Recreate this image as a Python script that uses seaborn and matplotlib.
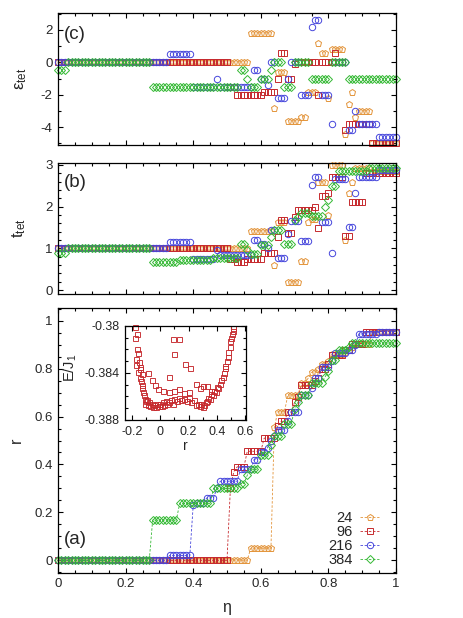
import matplotlib
matplotlib.use("Agg")
import matplotlib.pyplot as plt
import seaborn as sns
from matplotlib.ticker import MultipleLocator, FuncFormatter

# ---------------- data ----------------
eta = [
    0.00, 0.01, 0.02, 0.03, 0.04, 0.05, 0.06, 0.07, 0.08, 0.09,
    0.10, 0.11, 0.12, 0.13, 0.14, 0.15, 0.16, 0.17, 0.18, 0.19,
    0.20, 0.21, 0.22, 0.23, 0.24, 0.25, 0.26, 0.27, 0.28, 0.29,
    0.30, 0.31, 0.32, 0.33, 0.34, 0.35, 0.36, 0.37, 0.38, 0.39,
    0.40, 0.41, 0.42, 0.43, 0.44, 0.45, 0.46, 0.47, 0.48, 0.49,
    0.50, 0.51, 0.52, 0.53, 0.54, 0.55, 0.56, 0.57, 0.58, 0.59,
    0.60, 0.61, 0.62, 0.63, 0.64, 0.65, 0.66, 0.67, 0.68, 0.69,
    0.70, 0.71, 0.72, 0.73, 0.74, 0.75, 0.76, 0.77, 0.78, 0.79,
    0.80, 0.81, 0.82, 0.83, 0.84, 0.85, 0.86, 0.87, 0.88, 0.89,
    0.90, 0.91, 0.92, 0.93, 0.94, 0.95, 0.96, 0.97, 0.98, 0.99,
    1.00]

sizes = ["24", "96", "216", "384"]

# panel (c): epsilon_tet
eps_24 = [
    0, 0, 0, 0, 0, 0, 0, 0, 0, 0,
    0, 0, 0, 0, 0, 0, 0, 0, 0, 0,
    0, 0, 0, 0, 0, 0, 0, 0, 0, 0,
    0, 0, 0, 0, 0, 0, 0, 0, 0, 0,
    0, 0, 0, 0, 0, 0, 0, 0, 0, 0,
    0, 0, 0, 0, 0, 0, 0, 1.8, 1.8, 1.8,
    1.8, 1.8, 1.8, 1.8, -2.8, -0.6, -0.6, -0.6, -3.6, -3.6,
    -3.6, -3.6, -3.4, -3.4, -1.8, -1.8, -1.8, 1.2, 0.6, 0.6,
    -2.2, 0.8, 0.8, 0.8, 0.8, -4.4, -2.6, -1.8, -3.4, -3.0,
    -3.0, -3.0, -3.0, -5.0, -5.0, -5.0, -5.0, -5.0, -5.0, -5.0,
    -5.0]
eps_96 = [
    0, 0, 0, 0, 0, 0, 0, 0, 0, 0,
    0, 0, 0, 0, 0, 0, 0, 0, 0, 0,
    0, 0, 0, 0, 0, 0, 0, 0, 0, 0,
    0, 0, 0, 0, 0, 0, 0, 0, 0, 0,
    0, 0, 0, 0, 0, 0, 0, 0, 0, 0,
    0, -1.5, -1.5, -2.0, -2.0, -2.0, -2.0, -2.0, -2.0, -2.0,
    -2.0, -1.8, -1.8, -1.8, -1.8, -1.0, 0.55, 0.55, -1.0, -1.0,
    -0.1, 0, 0, 0, 0, 0, 0, -2.0, 0, 0,
    0, 0, 0.6, 0, 0, -4.2, -3.8, -3.8, -3.8, -3.8,
    -3.8, -3.8, -3.8, -5.0, -5.0, -5.0, -5.0, -5.0, -5.0, -5.0,
    -5.0]
eps_216 = [
    0, 0, 0, 0, 0, 0, 0, 0, 0, 0,
    0, 0, 0, 0, 0, 0, 0, 0, 0, 0,
    0, 0, 0, 0, 0, 0, 0, 0, 0, 0,
    0, 0, 0, 0.5, 0.5, 0.5, 0.5, 0.5, 0.5, 0.5,
    -1.5, -1.5, -1.5, -1.5, -1.5, -1.5, -1.5, -1.0, -1.5, -1.5,
    -1.5, -1.5, -1.5, -1.5, -1.5, -1.5, -1.5, -1.5, -0.5, -0.5,
    -1.0, -1.0, -1.4, 0, 0, -2.2, -2.2, -2.2, -1.0, 0,
    0, 0, -2.0, -2.0, -2.0, 2.2, 2.6, 2.6, -2.0, -2.0,
    -2.0, -3.8, 0, 0, 0, 0, -4.2, -4.2, -3.0, -3.8,
    -3.8, -3.8, -3.8, -3.8, -3.8, -4.6, -4.6, -4.6, -4.6, -4.6,
    -4.6]
eps_384 = [
    -0.5, -0.5, -0.5, 0, 0, 0, 0, 0, 0, 0,
    0, 0, 0, 0, 0, 0, 0, 0, 0, 0,
    0, 0, 0, 0, 0, 0, 0, 0, -1.5, -1.5,
    -1.5, -1.5, -1.5, -1.5, -1.5, -1.5, -1.5, -1.5, -1.5, -1.5,
    -1.5, -1.5, -1.5, -1.5, -1.5, -1.5, -1.5, -1.5, -1.5, -1.5,
    -1.5, -1.5, -1.5, -1.5, -0.5, -0.5, -1.0, -1.5, -1.5, -1.5,
    -1.0, -1.0, -1.0, -0.5, 0, 0, 0, -1.5, -1.5, -1.5,
    0, 0, 0, 0, 0, -1.0, -1.0, -1.0, -1.0, -1.0,
    -1.0, 0, 0, 0, 0, 0, -1.0, -1.0, -1.0, -1.0,
    -1.0, -1.0, -1.0, -1.0, -1.0, -1.0, -1.0, -1.0, -1.0, -1.0,
    -1.0]

# panel (b): t_tet
t_24 = [
    1, 1, 1, 1, 1, 1, 1, 1, 1, 1,
    1, 1, 1, 1, 1, 1, 1, 1, 1, 1,
    1, 1, 1, 1, 1, 1, 1, 1, 1, 1,
    1, 1, 1, 1, 1, 1, 1, 1, 1, 1,
    1, 1, 1, 1, 1, 1, 1, 1, 1, 1,
    1, 1, 1, 1, 1, 1, 1, 1.42, 1.42, 1.42,
    1.42, 1.42, 1.42, 1.42, 0.6, 1.62, 1.62, 1.62, 0.2, 0.2,
    0.2, 0.2, 0.7, 0.7, 1.62, 1.7, 1.7, 2.6, 2.6, 2.6,
    1.8, 3.0, 3.0, 3.0, 3.0, 1.2, 2.32, 2.6, 2.92, 2.92,
    2.92, 2.92, 2.92, 2.85, 2.85, 2.85, 2.85, 2.85, 2.85, 2.85,
    2.85]
t_96 = [
    1, 1, 1, 1, 1, 1, 1, 1, 1, 1,
    1, 1, 1, 1, 1, 1, 1, 1, 1, 1,
    1, 1, 1, 1, 1, 1, 1, 1, 1, 1,
    1, 1, 1, 1, 1, 1, 1, 1, 1, 1,
    1, 1, 1, 1, 1, 1, 1, 1, 1, 1,
    1, 0.75, 0.75, 0.68, 0.68, 0.68, 0.75, 0.75, 0.75, 0.75,
    0.75, 0.9, 0.9, 0.9, 0.9, 1.26, 1.68, 1.68, 1.36, 1.36,
    1.75, 1.93, 1.93, 1.93, 1.93, 1.93, 2.0, 1.48, 2.26, 2.26,
    2.32, 2.7, 2.72, 2.72, 2.7, 1.3, 1.3, 2.1, 2.1, 2.1,
    2.1, 2.8, 2.8, 2.8, 2.8, 2.8, 2.8, 2.8, 2.8, 2.8,
    2.8]
t_216 = [
    1, 1, 1, 1, 1, 1, 1, 1, 1, 1,
    1, 1, 1, 1, 1, 1, 1, 1, 1, 1,
    1, 1, 1, 1, 1, 1, 1, 1, 1, 1,
    1, 1, 1, 1.15, 1.15, 1.15, 1.15, 1.15, 1.15, 1.15,
    0.75, 0.75, 0.75, 0.75, 0.75, 0.75, 0.75, 0.95, 0.85, 0.85,
    0.85, 0.85, 0.85, 0.85, 0.85, 0.85, 0.85, 0.85, 1.2, 1.2,
    1.1, 1.1, 1.0, 1.45, 1.45, 0.78, 0.78, 0.78, 1.34, 1.66,
    1.66, 1.66, 1.18, 1.18, 1.18, 2.52, 2.72, 2.72, 1.64, 1.64,
    1.64, 0.9, 2.66, 2.66, 2.66, 2.66, 1.5, 1.5, 2.32, 2.7,
    2.7, 2.7, 2.7, 2.7, 2.7, 2.88, 2.88, 2.88, 2.88, 2.88,
    2.88]
t_384 = [
    0.88, 0.88, 0.88, 1, 1, 1, 1, 1, 1, 1,
    1, 1, 1, 1, 1, 1, 1, 1, 1, 1,
    1, 1, 1, 1, 1, 1, 1, 1, 0.68, 0.68,
    0.68, 0.68, 0.68, 0.68, 0.68, 0.68, 0.73, 0.73, 0.73, 0.73,
    0.73, 0.73, 0.73, 0.73, 0.73, 0.73, 0.78, 0.78, 0.78, 0.78,
    0.78, 0.78, 0.78, 0.78, 1.1, 1.1, 0.96, 0.86, 0.86, 0.86,
    1.08, 1.08, 1.08, 1.26, 1.44, 1.44, 1.44, 1.1, 1.1, 1.1,
    1.68, 1.76, 1.84, 1.84, 1.84, 1.78, 1.78, 1.78, 1.78, 2.0,
    2.16, 2.5, 2.5, 2.86, 2.86, 2.86, 2.86, 2.86, 2.86, 2.86,
    2.86, 2.86, 2.93, 2.93, 2.93, 2.93, 2.93, 2.93, 2.93, 2.93,
    2.93]

# panel (a): r
r_24 = [
    0, 0, 0, 0, 0, 0, 0, 0, 0, 0,
    0, 0, 0, 0, 0, 0, 0, 0, 0, 0,
    0, 0, 0, 0, 0, 0, 0, 0, 0, 0,
    0, 0, 0, 0, 0, 0, 0, 0, 0, 0,
    0, 0, 0, 0, 0, 0, 0, 0, 0, 0,
    0, 0, 0, 0, 0, 0, 0, 0.05, 0.05, 0.05,
    0.05, 0.05, 0.05, 0.05, 0.555, 0.62, 0.62, 0.62, 0.69, 0.69,
    0.69, 0.69, 0.74, 0.74, 0.76, 0.785, 0.785, 0.80, 0.82, 0.82,
    0.83, 0.86, 0.86, 0.86, 0.86, 0.87, 0.88, 0.89, 0.905, 0.905,
    0.905, 0.905, 0.905, 0.955, 0.955, 0.955, 0.955, 0.955, 0.955, 0.955,
    0.955]
r_96 = [
    0, 0, 0, 0, 0, 0, 0, 0, 0, 0,
    0, 0, 0, 0, 0, 0, 0, 0, 0, 0,
    0, 0, 0, 0, 0, 0, 0, 0, 0, 0,
    0, 0, 0, 0, 0, 0, 0, 0, 0, 0,
    0, 0, 0, 0, 0, 0, 0, 0, 0, 0,
    0, 0.30, 0.37, 0.39, 0.39, 0.39, 0.455, 0.455, 0.455, 0.455,
    0.455, 0.51, 0.51, 0.51, 0.51, 0.56, 0.58, 0.58, 0.62, 0.62,
    0.66, 0.68, 0.73, 0.73, 0.73, 0.73, 0.75, 0.76, 0.80, 0.80,
    0.82, 0.855, 0.855, 0.855, 0.855, 0.88, 0.88, 0.905, 0.905, 0.905,
    0.905, 0.955, 0.955, 0.955, 0.955, 0.955, 0.955, 0.955, 0.955, 0.955,
    0.955]
r_216 = [
    0, 0, 0, 0, 0, 0, 0, 0, 0, 0,
    0, 0, 0, 0, 0, 0, 0, 0, 0, 0,
    0, 0, 0, 0, 0, 0, 0, 0, 0, 0,
    0, 0, 0, 0.02, 0.02, 0.02, 0.02, 0.02, 0.02, 0.02,
    0.23, 0.24, 0.24, 0.24, 0.26, 0.26, 0.26, 0.30, 0.33, 0.33,
    0.33, 0.33, 0.33, 0.33, 0.38, 0.38, 0.38, 0.38, 0.42, 0.42,
    0.45, 0.45, 0.47, 0.50, 0.52, 0.545, 0.545, 0.545, 0.58, 0.62,
    0.62, 0.62, 0.69, 0.69, 0.69, 0.72, 0.76, 0.76, 0.805, 0.805,
    0.805, 0.83, 0.865, 0.865, 0.865, 0.865, 0.88, 0.88, 0.90, 0.945,
    0.945, 0.945, 0.945, 0.945, 0.945, 0.955, 0.955, 0.955, 0.955, 0.955,
    0.955]
r_384 = [
    0, 0, 0, 0, 0, 0, 0, 0, 0, 0,
    0, 0, 0, 0, 0, 0, 0, 0, 0, 0,
    0, 0, 0, 0, 0, 0, 0, 0, 0.168, 0.168,
    0.168, 0.168, 0.168, 0.168, 0.168, 0.168, 0.237, 0.237, 0.237, 0.237,
    0.237, 0.237, 0.237, 0.237, 0.237, 0.237, 0.30, 0.30, 0.30, 0.30,
    0.30, 0.30, 0.30, 0.30, 0.32, 0.32, 0.355, 0.38, 0.38, 0.38,
    0.44, 0.44, 0.44, 0.48, 0.52, 0.52, 0.52, 0.57, 0.57, 0.57,
    0.63, 0.66, 0.69, 0.69, 0.69, 0.74, 0.74, 0.74, 0.74, 0.765,
    0.79, 0.835, 0.835, 0.88, 0.88, 0.88, 0.89, 0.907, 0.907, 0.907,
    0.907, 0.907, 0.907, 0.907, 0.907, 0.907, 0.907, 0.907, 0.907, 0.907,
    0.907]

# inset: E/J1 versus r (N = 96)
r_inset = [
    -0.180, -0.177, -0.165, -0.160, -0.153, -0.170, -0.150, -0.168, -0.145, -0.140,
    -0.155, -0.130, -0.145, -0.135, -0.125, -0.130, -0.120, -0.115, -0.110, -0.100,
    -0.105, -0.090, -0.085, -0.080, -0.070, -0.060, -0.050, -0.040, -0.030, -0.020,
    -0.010, 0.000, 0.010, 0.020, 0.030, 0.040, 0.050, 0.060, 0.080, 0.090,
    0.100, 0.120, 0.130, 0.150, 0.170, 0.190, 0.200, 0.220, 0.240, 0.250,
    0.270, 0.280, 0.290, 0.300, 0.310, 0.320, 0.330, 0.340, 0.350, 0.360,
    0.370, 0.380, 0.390, 0.400, 0.410, 0.420, 0.430, 0.440, 0.450, 0.455,
    0.460, 0.470, 0.475, 0.480, 0.490, 0.495, 0.500, 0.505, 0.510, 0.515,
    -0.085, -0.060, -0.035, -0.012, 0.023, 0.060, 0.100, 0.130, 0.170, 0.200,
    0.250, 0.280, 0.300, 0.330, 0.360,
    0.094, 0.130, 0.099, 0.177, 0.207, 0.059]
E_inset = [
    -0.3801, -0.3810, -0.3807, -0.3820, -0.3823, -0.3828, -0.3831, -0.3833, -0.3835, -0.3837,
    -0.3839, -0.3841, -0.3844, -0.3847, -0.3850, -0.3853, -0.3856, -0.3859, -0.3862, -0.3864,
    -0.3866, -0.3863, -0.3867, -0.3865, -0.3868, -0.3866, -0.3869, -0.3867, -0.3869, -0.3866,
    -0.3868, -0.3866, -0.3868, -0.3865, -0.3867, -0.3864, -0.3866, -0.3865, -0.3863, -0.3866,
    -0.3862, -0.3864, -0.3861, -0.3863, -0.3862, -0.3864, -0.3861, -0.3865, -0.3863, -0.3867,
    -0.3866, -0.3868, -0.3866, -0.3869, -0.3867, -0.3865, -0.3864, -0.3861, -0.3862, -0.3858,
    -0.3859, -0.3855, -0.3856, -0.3852, -0.3853, -0.3849, -0.3846, -0.3843, -0.3840, -0.3836,
    -0.3834, -0.3830, -0.3826, -0.3822, -0.3818, -0.3813, -0.3810, -0.3807, -0.3804, -0.3802,
    -0.3840, -0.3846, -0.3850, -0.3854, -0.3855, -0.3856, -0.3855, -0.3854, -0.3857, -0.3856,
    -0.3849, -0.3853, -0.3851, -0.3851, -0.3855,
    -0.3811, -0.3811, -0.3824, -0.3832, -0.3836, -0.3843]

# ---------------- style ----------------
sns.set_theme(style="ticks")
plt.rcParams["font.family"] = ["Liberation Sans", "DejaVu Sans"]
plt.rcParams["axes.unicode_minus"] = False
plt.rcParams["mathtext.default"] = "regular"

colors = {"24": "#e3943a", "96": "#c62a2e", "216": "#4646dc", "384": "#35b935"}
markers = {"24": "p", "96": "s", "216": "o", "384": "D"}
msize = {"24": 4.7, "96": 4.0, "216": 4.6, "384": 3.9}

eps = {"24": eps_24, "96": eps_96, "216": eps_216, "384": eps_384}
tt = {"24": t_24, "96": t_96, "216": t_216, "384": t_384}
rr = {"24": r_24, "96": r_96, "216": r_216, "384": r_384}

fig = plt.figure(figsize=(4.63, 6.18), dpi=100)
ax_c = fig.add_axes([0.1253, 0.7654, 0.730, 0.2136])
ax_b = fig.add_axes([0.1253, 0.5238, 0.730, 0.2129])
ax_a = fig.add_axes([0.1253, 0.0733, 0.730, 0.4278])
ax_in = fig.add_axes([0.2707, 0.3204, 0.2607, 0.1521])

fmt = FuncFormatter(lambda v, p: "%g" % round(v, 6))


def style(ax, fs=9.5):
    ax.set_facecolor("white")
    ax.tick_params(which="both", direction="in", top=True, right=True,
                   labelsize=fs, width=0.8, color="black", pad=4)
    ax.tick_params(which="major", length=3.8)
    ax.tick_params(which="minor", length=2.0)
    for s in ax.spines.values():
        s.set_linewidth(0.9)
        s.set_color("black")
        s.set_visible(True)


for ax, data in ((ax_c, eps), (ax_b, tt)):
    for n in sizes:
        sns.lineplot(x=eta, y=data[n], ax=ax, estimator=None, sort=False,
                     color=colors[n], marker=markers[n], markersize=msize[n],
                     markerfacecolor="none", markeredgecolor=colors[n],
                     markeredgewidth=0.7, linestyle="none", clip_on=False,
                     legend=False)

for n in sizes:
    sns.lineplot(x=eta, y=rr[n], ax=ax_a, estimator=None, sort=False,
                 color=colors[n], marker=markers[n], markersize=msize[n],
                 markerfacecolor="none", markeredgecolor=colors[n],
                 markeredgewidth=0.7, linestyle=(0, (3, 2)), linewidth=0.6,
                 clip_on=False, label=n)

sns.lineplot(x=r_inset, y=E_inset, ax=ax_in, estimator=None, sort=False,
             color=colors["96"], marker="s", markersize=3.6,
             markerfacecolor="none", markeredgecolor=colors["96"],
             markeredgewidth=0.65, linestyle="none", clip_on=False, legend=False)

for ax in (ax_c, ax_b, ax_a):
    style(ax)
    ax.set_xlim(0, 1)
    ax.xaxis.set_major_locator(MultipleLocator(0.2))
    ax.xaxis.set_minor_locator(MultipleLocator(0.05))
    ax.xaxis.set_major_formatter(fmt)
    ax.yaxis.set_major_formatter(fmt)

ax_c.set_ylim(-5.1, 3.05)
ax_c.yaxis.set_major_locator(MultipleLocator(2))
ax_c.yaxis.set_minor_locator(MultipleLocator(1))
ax_b.set_ylim(-0.1, 3.05)
ax_b.yaxis.set_major_locator(MultipleLocator(1))
ax_b.yaxis.set_minor_locator(MultipleLocator(0.2))
ax_a.set_ylim(-0.052, 1.052)
ax_a.yaxis.set_major_locator(MultipleLocator(0.2))
ax_a.yaxis.set_minor_locator(MultipleLocator(0.05))
ax_c.tick_params(labelbottom=False)
ax_b.tick_params(labelbottom=False)

ax_c.set_xlabel("")
ax_b.set_xlabel("")
ax_c.set_ylabel(r"$\mathregular{ε_{tet}}$", fontsize=12)
ax_b.set_ylabel(r"$\mathregular{t_{tet}}$", fontsize=12)
ax_a.set_ylabel("r", fontsize=11.5)
ax_a.set_xlabel("η", fontsize=11.5)
ax_c.yaxis.set_label_coords(-0.085, 0.5)
ax_b.yaxis.set_label_coords(-0.09, 0.5)
ax_a.yaxis.set_label_coords(-0.10, 0.5)
ax_a.xaxis.set_label_coords(0.5, -0.105)

ax_c.text(0.018, 0.84, "(c)", transform=ax_c.transAxes, fontsize=13.5,
          ha="left", va="center")
ax_b.text(0.018, 0.85, "(b)", transform=ax_b.transAxes, fontsize=13.5,
          ha="left", va="center")
ax_a.text(0.018, 0.126, "(a)", transform=ax_a.transAxes, fontsize=13.5,
          ha="left", va="center")

handles, labels = ax_a.get_legend_handles_labels()
ax_a.legend(handles, labels, loc="lower right", bbox_to_anchor=(0.95, 0.02),
            frameon=False, markerfirst=False, fontsize=10.5, handlelength=1.3,
            handletextpad=0.5, labelspacing=0.0, borderpad=0, borderaxespad=0)

# inset
style(ax_in, fs=9)
ax_in.set_xlim(-0.245, 0.605)
ax_in.set_ylim(-0.388, -0.38)
ax_in.xaxis.set_major_locator(MultipleLocator(0.2))
ax_in.xaxis.set_minor_locator(MultipleLocator(0.1))
ax_in.yaxis.set_major_locator(MultipleLocator(0.004))
ax_in.yaxis.set_minor_locator(MultipleLocator(0.001))
ax_in.xaxis.set_major_formatter(fmt)
ax_in.yaxis.set_major_formatter(fmt)
ax_in.set_xlabel("r", fontsize=10)
ax_in.set_ylabel(r"$\mathregular{E/J_1}$", fontsize=10.5)
ax_in.xaxis.set_label_coords(0.5, -0.2)
ax_in.yaxis.set_label_coords(-0.38, 0.56)

fig.savefig("out.png", dpi=100, facecolor="white")
